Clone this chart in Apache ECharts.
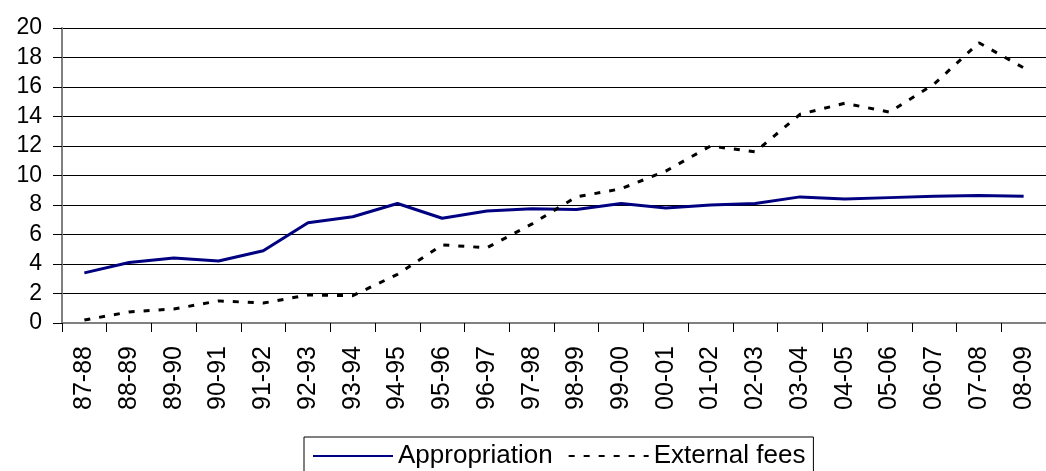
<!DOCTYPE html>
<html>
<head>
<meta charset="utf-8">
<script src="https://cdn.jsdelivr.net/npm/echarts@6/dist/echarts.min.js"></script>
<style>
  html, body { margin: 0; padding: 0; background: #fff; }
</style>
</head>
<body>
<!-- chart container -->
<div id="main" style="width: 1046px;height:471px;"></div>
<script>
// fiscal years
var years = ["87-88", "88-89", "89-90", "90-91", "91-92", "92-93", "93-94", "94-95",
  "95-96", "96-97", "97-98", "98-99", "99-00", "00-01", "01-02", "02-03",
  "03-04", "04-05", "05-06", "06-07", "07-08", "08-09"];

var appropriation = [3.4, 4.1, 4.4, 4.2, 4.9, 6.8, 7.2, 8.1, 7.1, 7.6, 7.75, 7.7,
  8.1, 7.8, 8.0, 8.1, 8.55, 8.4, 8.5, 8.6, 8.65, 8.6];

var externalFees = [0.2, 0.75, 0.95, 1.5, 1.35, 1.9, 1.85, 3.3, 5.3, 5.1, 6.7, 8.55,
  9.1, 10.3, 12.0, 11.6, 14.15, 14.9, 14.3, 16.2, 19.0, 17.3];

var yTicks = { min: 0, max: 20, interval: 2 };

var font = 'Arial, "Liberation Sans", sans-serif';

var myChart = echarts.init(document.getElementById("main"));

var option = {
  animation: false,
  backgroundColor: "#fff",
  textStyle: { fontFamily: font },
  grid: {
    left: 62,
    top: 28,
    bottom: 148,
    right: -10, // plot runs past the right edge
    containLabel: false
  },
  legend: {
    left: 304,
    top: 437,
    padding: [6, 8, 8, 8],
    itemGap: 15,
    itemWidth: 80,
    itemHeight: 3, // keeps the legend marker dot tiny
    itemStyle: { opacity: 0 },
    borderColor: "#000",
    borderWidth: 1,
    borderRadius: 0,
    textStyle: { fontSize: 26, color: "#000", fontFamily: font },
    data: ["Appropriation", "External fees"]
  },
  xAxis: {
    type: "category",
    data: years,
    boundaryGap: true,
    axisLine: { lineStyle: { color: "#808080", width: 2 } },
    axisTick: { show: true, length: 9, lineStyle: { color: "#000" } },
    axisLabel: {
      rotate: 90,
      interval: 0,
      margin: 23,
      fontSize: 25,
      color: "#000",
      fontFamily: font
    }
  },
  yAxis: {
    type: "value",
    min: yTicks.min,
    max: yTicks.max,
    interval: yTicks.interval,
    axisLine: { show: true, lineStyle: { color: "#808080", width: 2 } },
    axisTick: { show: true, length: 9, lineStyle: { color: "#000" } },
    splitLine: { show: true, lineStyle: { color: "#000", width: 1 } },
    axisLabel: { margin: 20, fontSize: 23, color: "#000", fontFamily: font }
  },
  series: [
    {
      name: "Appropriation",
      type: "line",
      symbol: "none",
      data: appropriation,
      lineStyle: { color: "#000080", width: 3 },
      itemStyle: { color: "#000080" }
    },
    {
      name: "External fees",
      type: "line",
      symbol: "none",
      data: externalFees,
      lineStyle: { color: "#000", width: 3, type: [6, 9] },
      itemStyle: { color: "#000" }
    }
  ]
};

myChart.setOption(option);
</script>
</body>
</html>
